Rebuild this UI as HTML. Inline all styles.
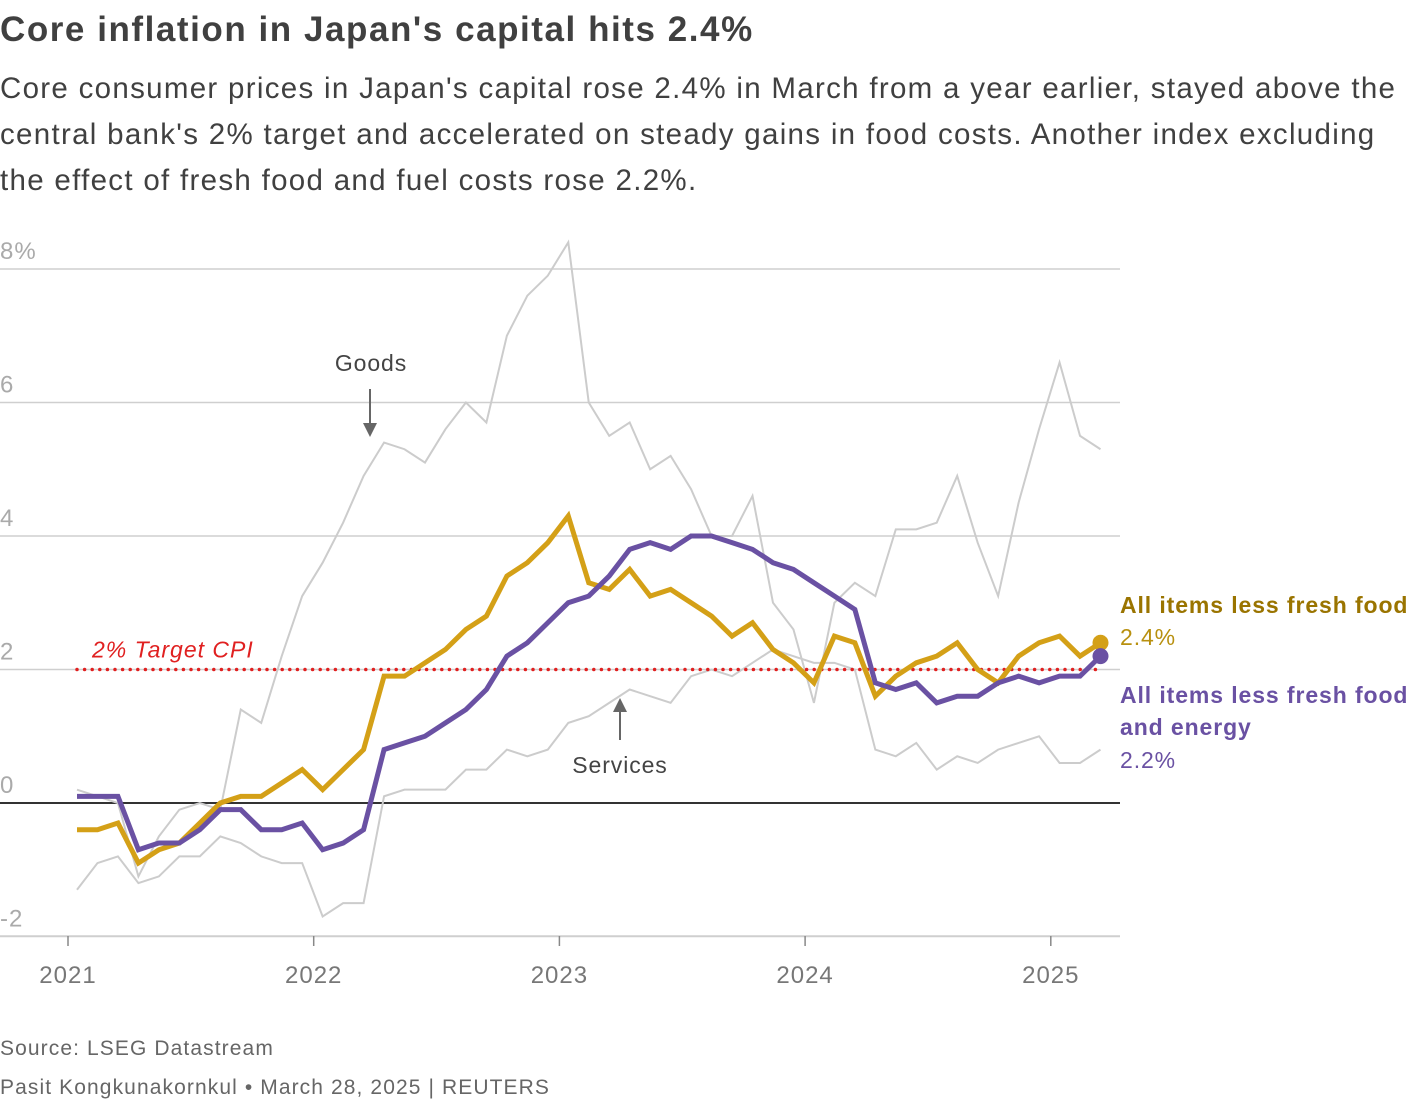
<!DOCTYPE html>
<html><head><meta charset="utf-8">
<style>
body{margin:0;background:#fff;font-family:"Liberation Sans",sans-serif;color:#404040;width:1420px;height:1112px;overflow:hidden;position:relative}
#title{position:absolute;left:0;top:10px;font-size:35px;font-weight:bold;color:#404040;letter-spacing:1.55px;white-space:nowrap}
#sub{position:absolute;left:0;top:66px;width:1420px;font-size:29.5px;line-height:46px;color:#404040;letter-spacing:1.3px;white-space:nowrap}
svg{position:absolute;left:0;top:0}
.foot{position:absolute;left:0;font-size:21px;color:#666;letter-spacing:1.1px;white-space:nowrap}
</style></head><body>
<div id="title">Core inflation in Japan's capital hits 2.4%</div>
<div id="sub">Core consumer prices in Japan's capital rose 2.4% in March from a year earlier, stayed above the<br>central bank's 2% target and accelerated on steady gains in food costs. Another index excluding<br>the effect of fresh food and fuel costs rose 2.2%.</div>
<svg id="chart" width="1420" height="1112"></svg>
<div class="foot" style="top:1037px">Source: LSEG Datastream</div>
<div class="foot" style="top:1076px">Pasit Kongkunakornkul • March 28, 2025 | REUTERS</div>
<script>
const yTicks=[8,6,4,2,0,-2];
const yTickLabels=["8%","6","4","2","0","-2"];
const xYears=[2021,2022,2023,2024,2025];
const core=[-0.4,-0.4,-0.3,-0.9,-0.7,-0.6,-0.3,0,0.1,0.1,0.3,0.5,
0.2,0.5,0.8,1.9,1.9,2.1,2.3,2.6,2.8,3.4,3.6,3.9,
4.3,3.3,3.2,3.5,3.1,3.2,3.0,2.8,2.5,2.7,2.3,2.1,
1.8,2.5,2.4,1.6,1.9,2.1,2.2,2.4,2.0,1.8,2.2,2.4,
2.5,2.2,2.4];
const coreCore=[0.1,0.1,0.1,-0.7,-0.6,-0.6,-0.4,-0.1,-0.1,-0.4,-0.4,-0.3,
-0.7,-0.6,-0.4,0.8,0.9,1.0,1.2,1.4,1.7,2.2,2.4,2.7,
3.0,3.1,3.4,3.8,3.9,3.8,4.0,4.0,3.9,3.8,3.6,3.5,
3.3,3.1,2.9,1.8,1.7,1.8,1.5,1.6,1.6,1.8,1.9,1.8,
1.9,1.9,2.2];
const goods=[0.2,0.1,0.0,-1.1,-0.5,-0.1,0.0,-0.1,1.4,1.2,2.2,3.1,
3.6,4.2,4.9,5.4,5.3,5.1,5.6,6.0,5.7,7.0,7.6,7.9,
8.4,6.0,5.5,5.7,5.0,5.2,4.7,4.0,4.0,4.6,3.0,2.6,
1.5,3.0,3.3,3.1,4.1,4.1,4.2,4.9,3.9,3.1,4.5,5.6,
6.6,5.5,5.3];
const services=[-1.3,-0.9,-0.8,-1.2,-1.1,-0.8,-0.8,-0.5,-0.6,-0.8,-0.9,-0.9,
-1.7,-1.5,-1.5,0.1,0.2,0.2,0.2,0.5,0.5,0.8,0.7,0.8,
1.2,1.3,1.5,1.7,1.6,1.5,1.9,2.0,1.9,2.1,2.3,2.2,
2.1,2.1,2.0,0.8,0.7,0.9,0.5,0.7,0.6,0.8,0.9,1.0,
0.6,0.6,0.8];
const target=[2];

const NS="http://www.w3.org/2000/svg";
const svg=document.getElementById('chart');
const y=v=>803-v*66.75;
const x=i=>77+i*20.47;
const xYear=yr=>68+(yr-2021)*245.7;
function mk(tag,attrs,parent){const e=document.createElementNS(NS,tag);for(const k in attrs)e.setAttribute(k,attrs[k]);(parent||svg).appendChild(e);return e;}

yTicks.forEach((t,k)=>{
  const l=mk('line',{x1:0,x2:1120,y1:y(t),y2:y(t),stroke:t===0?'#333':'#cfcfcf','stroke-width':t===0?2:1.5});
  
  
  const tx=mk('text',{x:0,y:y(t)-10,'font-size':24,fill:'#aaa','font-family':'Liberation Sans','letter-spacing':1});
  tx.textContent=yTickLabels[k];
  
  
});
const bl=mk('line',{x1:0,x2:1120,y1:936,y2:936,stroke:'#cfcfcf','stroke-width':1.5});


xYears.forEach(yr=>{
  const t=mk('line',{x1:xYear(yr),x2:xYear(yr),y1:936,y2:946,stroke:'#888','stroke-width':1.5});
  
  
  const tx=mk('text',{x:xYear(yr),y:983,'font-size':24,fill:'#777','text-anchor':'middle','font-family':'Liberation Sans','letter-spacing':1});
  tx.textContent=yr;
  
  
});
function line(data,color,w,name){
  const p=mk('polyline',{points:data.map((v,i)=>x(i)+','+y(v)).join(' '),fill:'none',stroke:color,'stroke-width':w,'stroke-linejoin':'miter'});
  
  
}
line(goods,'#cccccc',2,'goods-line');
line(services,'#cccccc',2,'services-line');
const tl=mk('line',{x1:77,x2:1100,y1:y(target[0]),y2:y(target[0]),stroke:'#e02020','stroke-width':3.5,'stroke-dasharray':'0 7.6','stroke-linecap':'round'});


const tt=mk('text',{x:92,y:y(target[0])-12,'font-size':23,fill:'#e02020','font-style':'italic','font-family':'Liberation Sans','letter-spacing':1});
tt.textContent='2% Target CPI';


line(core,'#d4a017',5,'core-cpi-line');
line(coreCore,'#6a51a3',5,'core-core-cpi-line');
const d1=mk('circle',{cx:x(core.length-1),cy:y(core[core.length-1]),r:8,fill:'#d4a017'});


const d2=mk('circle',{cx:x(coreCore.length-1),cy:y(coreCore[coreCore.length-1]),r:8,fill:'#6a51a3'});



function label(txt,xx,yy,color,bold,name,anchor){
  const t=mk('text',{x:xx,y:yy,'font-size':23,fill:color,'font-weight':bold?'bold':'normal','text-anchor':anchor||'start','font-family':'Liberation Sans','letter-spacing':0.9});
  t.textContent=txt;
  
  
}
label('All items less fresh food',1120,613,'#9a7400',true,'legend-core-cpi');
label(core[core.length-1].toFixed(1)+'%',1120,645,'#b8900f',false,'legend-core-cpi-value');
label('All items less fresh food',1120,703,'#6a51a3',true,'legend-core-core-cpi');
label('and energy',1120,735,'#6a51a3',true,'legend-core-core-cpi-2');
label(coreCore[coreCore.length-1].toFixed(1)+'%',1120,768,'#6a51a3',false,'legend-core-core-cpi-value');
label('Goods',371,371,'#444',false,'goods-annotation','middle');
label('Services',620,773,'#444',false,'services-annotation','middle');
function arrow(x0,y0,y1,name){
  const g=mk('g',{});
  
  
  const dir=y1>y0?1:-1;
  mk('line',{x1:x0,x2:x0,y1:y0,y2:y1-dir*12,stroke:'#666','stroke-width':2},g);
  mk('polygon',{points:`${x0-7},${y1-dir*14} ${x0+7},${y1-dir*14} ${x0},${y1}`,fill:'#666'},g);
}
arrow(370,389,437,'goods-arrow');
arrow(620,740,698,'services-arrow');
</script>
</body></html>
